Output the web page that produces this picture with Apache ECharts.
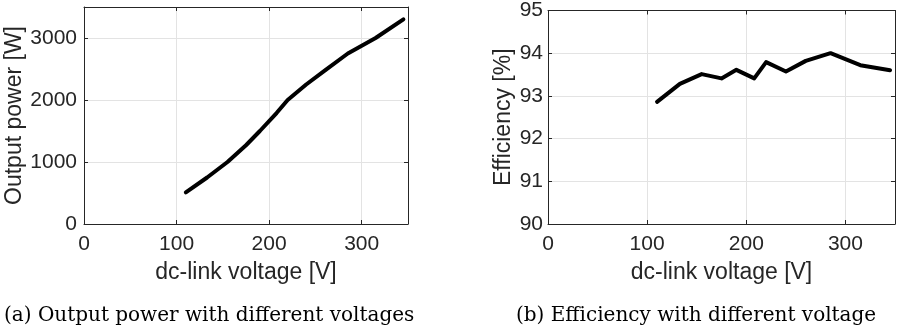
<!DOCTYPE html>
<html>
<head>
<meta charset="utf-8">
<script src="https://cdn.jsdelivr.net/npm/echarts@6/dist/echarts.min.js"></script>
<style>
  html, body { margin: 0; padding: 0; background: #fff; }
  #chart { width: 898px; height: 334px; }
</style>
</head>
<body>
<div id="chart"></div>
<script>
// dc-link voltage [V]
const voltage = [110, 133, 155, 175, 190, 208, 220, 240, 260, 285, 315, 345]
// output power [W]
const power = [510, 750, 1000, 1270, 1500, 1790, 2000, 2250, 2475, 2750, 3000, 3300]
// efficiency [%]
const efficiency = [92.86, 93.28, 93.51, 93.41, 93.61, 93.41, 93.79, 93.57, 93.82, 94.0, 93.72, 93.6]

const captions = ['(a) Output power with different voltages', '(b) Efficiency with different voltage']

const axisColor = '#262626'
const gridColor = '#e3e3e3'
const tickFont = 21
const nameFont = 23

function mainX(gridIndex) {
  return {
    type: 'value',
    gridIndex: gridIndex,
    min: 0,
    max: 350,
    interval: 100,
    name: 'dc-link voltage [V]',
    nameLocation: 'middle',
    nameGap: 37,
    nameTextStyle: { color: axisColor, fontSize: nameFont, fontFamily: 'Liberation Sans' },
    axisLine: { show: true, lineStyle: { color: axisColor, width: 1 } },
    axisTick: { show: true, inside: true, length: 4, lineStyle: { color: axisColor } },
    axisLabel: { color: axisColor, fontSize: tickFont, fontFamily: 'Liberation Sans', margin: 10, showMaxLabel: false },
    splitLine: { show: true, lineStyle: { color: gridColor, width: 1 } }
  }
}

function frameX(gridIndex) {
  return {
    type: 'value',
    gridIndex: gridIndex,
    position: 'top',
    min: 0,
    max: 350,
    interval: 100,
    axisLine: { show: true, onZero: false, lineStyle: { color: axisColor, width: 1 } },
    axisTick: { show: true, inside: true, length: 4, lineStyle: { color: axisColor } },
    axisLabel: { show: false },
    splitLine: { show: false }
  }
}

function mainY(gridIndex, min, max, interval, name, gap, margin) {
  return {
    type: 'value',
    gridIndex: gridIndex,
    min: min,
    max: max,
    interval: interval,
    name: name,
    nameLocation: 'middle',
    nameGap: gap,
    nameTextStyle: { color: axisColor, fontSize: nameFont, fontFamily: 'Liberation Sans' },
    axisLine: { show: true, onZero: false, lineStyle: { color: axisColor, width: 1 } },
    axisTick: { show: true, inside: true, length: 4, lineStyle: { color: axisColor } },
    axisLabel: {
      color: axisColor,
      fontSize: tickFont,
      fontFamily: 'Liberation Sans',
      margin: margin,
      showMaxLabel: max % interval === 0,
      formatter: (v) => String(v)
    },
    splitLine: { show: true, lineStyle: { color: gridColor, width: 1 } }
  }
}

function frameY(gridIndex, min, max, interval) {
  return {
    type: 'value',
    gridIndex: gridIndex,
    position: 'right',
    min: min,
    max: max,
    interval: interval,
    axisLine: { show: true, onZero: false, lineStyle: { color: axisColor, width: 1 } },
    axisTick: { show: true, inside: true, length: 4, lineStyle: { color: axisColor } },
    axisLabel: { show: false },
    splitLine: { show: false }
  }
}

const chart = echarts.init(document.getElementById('chart'))
chart.setOption({
  animation: false,
  grid: [
    { left: 84, top: 7, width: 324, height: 217 },
    { left: 548, top: 7, width: 347, height: 217 }
  ],
  xAxis: [mainX(0), frameX(0), mainX(1), frameX(1)],
  yAxis: [
    mainY(0, 0, 3500, 1000, 'Output power [W]', 54, 7),
    frameY(0, 0, 3500, 1000),
    mainY(1, 90, 95, 1, 'Efficiency [%]', 33, 5),
    frameY(1, 90, 95, 1)
  ],
  graphic: [
    {
      type: 'text',
      left: 4,
      top: 306,
      style: { text: captions[0], font: '20px "DejaVu Serif"', fill: '#000' }
    },
    {
      type: 'text',
      left: 516,
      top: 306,
      style: { text: captions[1], font: '20px "DejaVu Serif"', fill: '#000' }
    }
  ],
  series: [
    {
      type: 'line',
      xAxisIndex: 0,
      yAxisIndex: 0,
      data: voltage.map((v, i) => [v, power[i]]),
      symbol: 'none',
      lineStyle: { color: '#000', width: 4, join: 'round', cap: 'round' }
    },
    {
      type: 'line',
      xAxisIndex: 2,
      yAxisIndex: 2,
      data: voltage.map((v, i) => [v, efficiency[i]]),
      symbol: 'none',
      lineStyle: { color: '#000', width: 4, join: 'round', cap: 'round' }
    }
  ]
})
</script>
</body>
</html>
